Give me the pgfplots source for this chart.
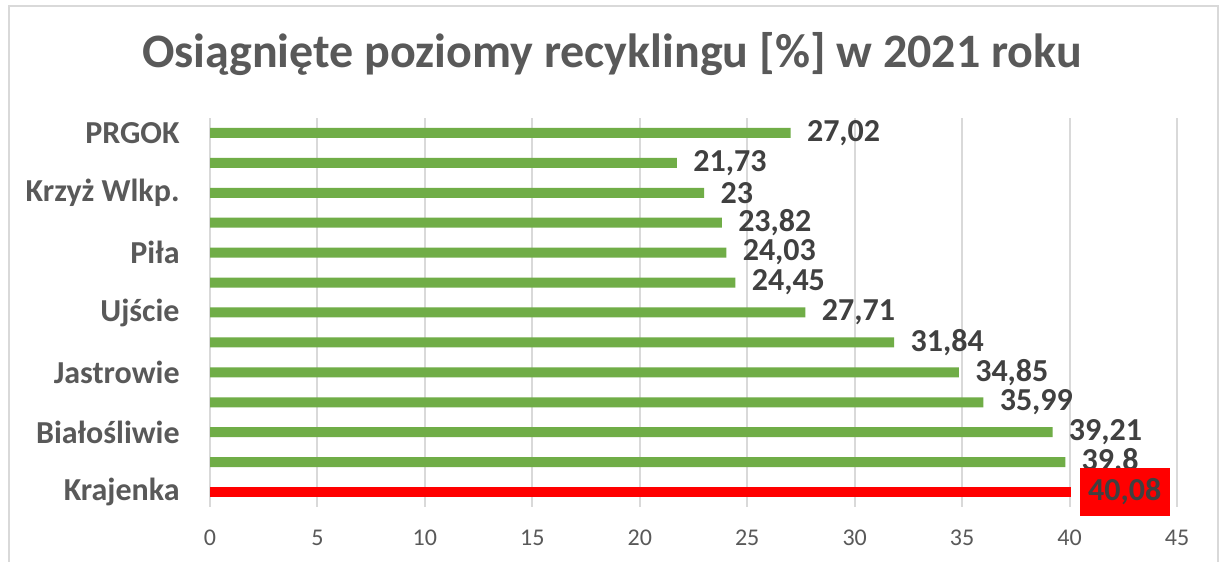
\documentclass[border=0pt]{standalone}
\usepackage{fontspec}
\setmainfont{Carlito}
\usepackage{pgfplots}
\pgfplotsset{compat=1.18}
\definecolor{barGreen}{HTML}{70AD47}
\definecolor{txtGray}{HTML}{595959}
\definecolor{lblGray}{HTML}{404040}
\definecolor{gridGray}{HTML}{D9D9D9}

\begin{document}
\begin{tikzpicture}
\useasboundingbox (0,0) rectangle (610.5pt,281pt);
\fill[white] (0,0) rectangle (610.5pt,281pt);
\draw[gridGray, line width=1pt] (4.5pt,-10pt) rectangle (609pt,278pt);
\node[anchor=base, inner sep=0pt, text=txtGray, font=\fontsize{24}{28}\selectfont\bfseries]
  at (306pt,247pt) {Osiągnięte poziomy recyklingu [\%] w 2021 roku};

\begin{axis}[
    at={(105pt,27.5pt)}, anchor=south west,
    scale only axis, width=483.5pt, height=194.5pt,
    xbar, bar width=5pt, bar shift=0pt,
    xmin=0, xmax=45, ymin=-0.5, ymax=12.5,
    xtick={0,5,...,45},
    ytick={0,2,...,12},
    yticklabels={Krajenka,Białośliwie,Jastrowie,Ujście,Piła,Krzyż Wlkp.,PRGOK},
    major tick length=0pt,
    axis line style={draw=none},
    xmajorgrids, major grid style={gridGray, line width=1pt},
    /pgf/number format/assume math mode=true,
    /pgf/number format/use comma,
    xticklabel style={font=\fontsize{12}{14}\selectfont, text=txtGray, inner sep=0pt, yshift=-11.5pt},
    yticklabel style={font=\fontsize{16}{19}\selectfont\bfseries, text=txtGray, inner sep=0pt, xshift=-15pt},
    nodes near coords,
    nodes near coords style={font=\fontsize{16}{18}\selectfont\bfseries, text=lblGray},
]
% green bars, bottom to top
\addplot[draw=none, fill=barGreen,
  every node near coord/.append style={anchor=west, inner sep=0pt, xshift=8pt}]
  coordinates {(39.8,1) (39.21,2) (35.99,3) (34.85,4) (31.84,5) (27.71,6)
               (24.45,7) (24.03,8) (23.82,9) (23,10) (21.73,11) (27.02,12)};
% highlighted bar
\addplot[draw=none, fill=red,
  every node near coord/.append style={anchor=west, inner sep=0pt, xshift=4pt,
    fill=red, minimum width=45pt, minimum height=24pt}]
  coordinates {(40.08,0)};
\end{axis}
\end{tikzpicture}
\end{document}
